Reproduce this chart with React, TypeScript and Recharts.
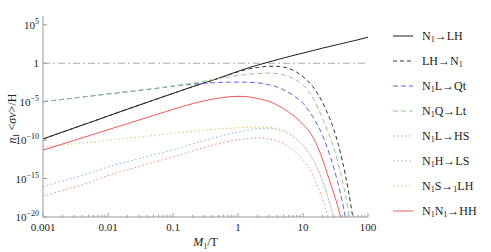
import React from 'react';
import { LineChart, Line, XAxis, YAxis, ReferenceLine, Legend } from 'recharts';

// M1/T sample points
const xValues = [0.001, 0.002, 0.005, 0.01, 0.02, 0.05, 0.1, 0.2, 0.5, 1, 1.5, 2, 3, 4, 5, 7, 10, 14, 20, 25, 30, 35, 40, 50, 60, 70, 100];

// log10 of n1<σv>/H (null = below the plotted range)
const n1ToLH = [-9.85, -8.95, -7.77, -6.87, -5.97, -4.8, -3.92, -3.05, -1.95, -1.05, -0.55, -0.25, 0.17, 0.46, 0.68, 1.0, 1.33, 1.63, 1.97, 2.16, 2.32, 2.45, 2.56, 2.76, 2.92, 3.05, 3.39];
const lhToN1 = [-9.85, -8.95, -7.77, -6.87, -5.97, -4.8, -3.92, -3.05, -1.97, -1.12, -0.72, -0.55, -0.39, -0.4, -0.5, -0.9, -1.75, -3.0, -5.1, -6.9, -8.7, -10.6, -12.6, -16.6, -20.7, null, null];
const n1LToQt = [-5.0, -4.7, -4.3, -4.0, -3.7, -3.32, -3.0, -2.72, -2.5, -2.45, -2.47, -2.55, -2.8, -3.1, -3.45, -4.15, -5.2, -6.9, -9.4, -11.6, -13.7, -15.8, -17.9, -22.1, null, null, null];
const n1QToLt = [-5.0, -4.7, -4.3, -4.0, -3.7, -3.3, -2.97, -2.6, -2.0, -1.6, -1.42, -1.33, -1.28, -1.35, -1.5, -1.95, -2.85, -4.4, -7.2, -9.2, -11.1, -13.1, -15.1, -19.3, -23.4, null, null];
const n1LToHS = [-17.3, -16.55, -15.55, -14.6, -13.85, -12.9, -12.2, -11.4, -10.45, -9.95, -9.78, -9.72, -9.85, -10.1, -10.45, -11.25, -12.6, -14.5, -17.7, -20.3, -22.9, null, null, null, null, null, null];
const n1HToLS = [-16.05, -15.3, -14.35, -13.5, -12.8, -11.9, -11.25, -10.5, -9.55, -8.95, -8.65, -8.5, -8.45, -8.6, -8.85, -9.6, -10.7, -12.4, -15.3, -17.8, -20.3, -22.8, null, null, null, null, null];
const n1SToLH = [-10.9, -10.65, -10.3, -10.02, -9.75, -9.4, -9.1, -8.85, -8.55, -8.4, -8.33, -8.3, -8.35, -8.5, -8.75, -9.45, -10.65, -12.35, -15.3, -17.85, -20.4, -22.9, null, null, null, null, null];
const n1N1ToHH = [-11.3, -10.5, -9.45, -8.65, -7.85, -6.8, -6.0, -5.25, -4.55, -4.3, -4.38, -4.6, -4.95, -5.45, -5.9, -6.75, -7.95, -9.5, -12.5, -15.0, -17.0, -18.9, -20.9, -24.7, null, null, null];

const seriesNames = ['N₁→LH', 'LH→N₁', 'N₁L→Qt', 'N₁Q→Lt', 'N₁L→HS', 'N₁H→LS', 'N₁S→₁LH', 'N₁N₁→HH'];

const xTicks = [0.001, 0.002, 0.003, 0.004, 0.005, 0.006, 0.007, 0.008, 0.009,
  0.01, 0.02, 0.03, 0.04, 0.05, 0.06, 0.07, 0.08, 0.09,
  0.1, 0.2, 0.3, 0.4, 0.5, 0.6, 0.7, 0.8, 0.9,
  1, 2, 3, 4, 5, 6, 7, 8, 9,
  10, 20, 30, 40, 50, 60, 70, 80, 90, 100];
const xTickLabels = ['0.001', '0.01', '0.1', '1', '10', '100'];
const yTicks = [1e-20, 1e-15, 1e-10, 1e-5, 1, 1e5];

const xDomain = [0.001, 100];
const yDomain = [1e-20, 1.4e6];

const seriesData = [n1ToLH, lhToN1, n1LToQt, n1QToLt, n1LToHS, n1HToLS, n1SToLH, n1N1ToHH];
const keys = ['s0', 's1', 's2', 's3', 's4', 's5', 's6', 's7'];

const styles = [
  { color: '#1a1a1a', dash: undefined },
  { color: '#333333', dash: '4 3' },
  { color: '#6060dc', dash: '5 3' },
  { color: '#90c890', dash: '5 3' },
  { color: '#f4876a', dash: '1.5 2.5' },
  { color: '#80b4e6', dash: '1.5 2.5' },
  { color: '#e6c262', dash: '1.5 2.5' },
  { color: '#f05656', dash: undefined },
];

const table = xValues.map((x, i) => {
  const row: Record<string, number | null> = { x };
  seriesData.forEach((arr, k) => {
    const v = arr[i];
    row[keys[k]] = v === null ? null : Math.pow(10, v);
  });
  return row;
});

const FONT = '"Liberation Serif", "DejaVu Serif", serif';
const AXIS = '#999999';
const TEXT = '#222222';

const isMajor = (v: number) => {
  const l = Math.log10(v);
  return Math.abs(l - Math.round(l)) < 1e-6;
};

const BottomTick = (props: any) => {
  const { x, y, payload } = props;
  const v = payload.value;
  const major = isMajor(v);
  const idx = Math.round(Math.log10(v)) + 3;
  return (
    <g>
      <line x1={x} x2={x} y1={y} y2={y - (major ? 4 : 2)} stroke={AXIS} />
      {major && (
        <text x={x} y={y + 14} textAnchor="middle" fontSize={11} fontFamily={FONT} fill={TEXT}>
          {xTickLabels[idx]}
        </text>
      )}
    </g>
  );
};

const TopTick = (props: any) => {
  const { x, y, payload } = props;
  const major = isMajor(payload.value);
  return <line x1={x} x2={x} y1={y} y2={y + (major ? 4 : 2)} stroke={AXIS} />;
};

const LeftTick = (props: any) => {
  const { x, y, payload } = props;
  const e = Math.round(Math.log10(payload.value));
  return (
    <g>
      <line x1={x} x2={x + 4} y1={y} y2={y} stroke={AXIS} />
      <text x={x - 4} y={y + 4} textAnchor="end" fontSize={11} fontFamily={FONT} fill={TEXT}>
        {e === 0 ? '1' : (
          <>
            <tspan>10</tspan>
            <tspan dy={-5} fontSize={8}>{e < 0 ? '−' + -e : String(e)}</tspan>
          </>
        )}
      </text>
    </g>
  );
};

const RightTick = (props: any) => {
  const { x, y } = props;
  return <line x1={x} x2={x - 4} y1={y} y2={y} stroke={AXIS} />;
};

const renderName = (name: string) => {
  const parts = name.split('₁');
  const out: React.ReactNode[] = [];
  parts.forEach((p, i) => {
    if (i > 0) out.push(<sub key={'s' + i} style={{ fontSize: 8, verticalAlign: '-2px', lineHeight: 0 }}>1</sub>);
    out.push(<span key={'p' + i}>{p}</span>);
  });
  return out;
};

const LegendContent = () => (
  <div style={{ fontFamily: FONT, fontSize: 12, color: TEXT }}>
    {seriesNames.map((n, i) => (
      <div key={n} style={{ display: 'flex', alignItems: 'center', height: 25 }}>
        <svg width={20} height={6} style={{ marginLeft: 3 }}>
          <line x1={0} x2={20} y1={3} y2={3} stroke={styles[i].color} strokeDasharray={styles[i].dash} strokeWidth={1} />
        </svg>
        <span style={{ marginLeft: 9, whiteSpace: 'nowrap', lineHeight: '14px' }}>{renderName(n)}</span>
      </div>
    ))}
  </div>
);

const YLabel = (props: any) => {
  const { viewBox } = props;
  const cx = 16;
  const cy = viewBox.y + viewBox.height / 2 + 2;
  return (
    <text x={cx} y={cy} transform={`rotate(-90, ${cx}, ${cy})`} textAnchor="middle" fontSize={12} fontFamily={FONT} fill={TEXT}>
      <tspan fontStyle="italic">n</tspan>
      <tspan fontSize={8} dy={3}>1</tspan>
      <tspan dy={-3}> &lt;</tspan>
      <tspan fontStyle="italic">σv</tspan>
      <tspan>&gt;/H</tspan>
    </text>
  );
};

const XLabel = (props: any) => {
  const { viewBox } = props;
  const cx = viewBox.x + viewBox.width / 2;
  const cy = viewBox.y + 29;
  return (
    <text x={cx} y={cy} textAnchor="middle" fontSize={12} fontFamily={FONT} fill={TEXT}>
      <tspan fontStyle="italic">M</tspan>
      <tspan fontSize={8} dy={3}>1</tspan>
      <tspan dy={-3}>/T</tspan>
    </text>
  );
};

export default function App() {
  return (
    <div style={{ position: 'absolute', left: 0, top: 0, width: 491, height: 252, background: '#fff' }}>
      <LineChart width={491} height={252} data={table} margin={{ top: 16, right: 123, bottom: 0, left: 0 }}>
        <XAxis
          dataKey="x"
          type="number"
          scale="log"
          domain={xDomain}
          ticks={xTicks}
          interval={0}
          tickSize={0}
          tickMargin={0}
          tickLine={false}
          tick={<BottomTick />}
          height={35}
          axisLine={{ stroke: AXIS }}
          allowDataOverflow
          label={<XLabel />}
        />
        <XAxis
          xAxisId="top"
          orientation="top"
          dataKey="x"
          type="number"
          scale="log"
          domain={xDomain}
          ticks={xTicks}
          interval={0}
          tickSize={0}
          tickMargin={0}
          tickLine={false}
          tick={<TopTick />}
          height={0}
          axisLine={{ stroke: AXIS }}
          allowDataOverflow
        />
        <YAxis
          type="number"
          scale="log"
          domain={yDomain}
          ticks={yTicks}
          interval={0}
          tickSize={0}
          tickMargin={0}
          tickLine={false}
          tick={<LeftTick />}
          width={43}
          axisLine={{ stroke: AXIS }}
          allowDataOverflow
          label={<YLabel />}
        />
        <YAxis
          yAxisId="right"
          orientation="right"
          type="number"
          scale="log"
          domain={yDomain}
          ticks={yTicks}
          interval={0}
          tickSize={0}
          tickMargin={0}
          tickLine={false}
          tick={<RightTick />}
          width={0}
          axisLine={{ stroke: AXIS }}
          allowDataOverflow
        />
        <ReferenceLine y={1} stroke="#aaaaaa" strokeDasharray="7 3 2 3" strokeWidth={1} />
        {keys.map((k, i) => (
          <Line
            key={k}
            dataKey={k}
            name={seriesNames[i]}
            type="monotone"
            stroke={styles[i].color}
            strokeDasharray={styles[i].dash}
            strokeWidth={1}
            dot={false}
            activeDot={false}
            isAnimationActive={false}
          />
        ))}
        <Legend
          layout="vertical"
          align="center"
          verticalAlign="middle"
          content={<LegendContent />}
          wrapperStyle={{ left: 390, top: 23.5, width: 100 }}
        />
      </LineChart>
    </div>
  );
}
